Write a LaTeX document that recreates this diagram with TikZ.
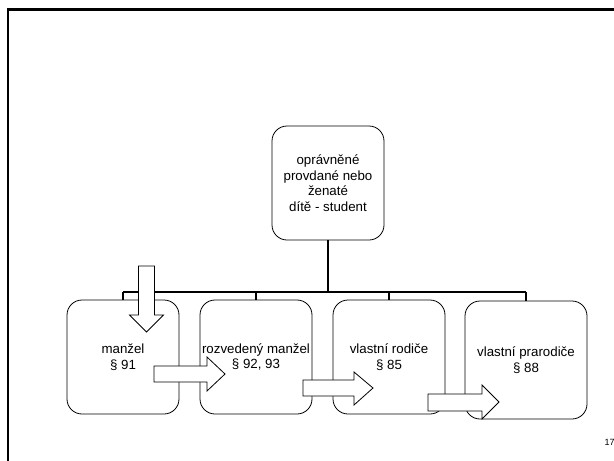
\documentclass[tikz,border=0pt]{standalone}
\usepackage{fontspec}
\setmainfont{Liberation Sans}
\begin{document}
\begin{tikzpicture}[x=1pt,y=-1pt,
  boxnode/.style={draw=black,line width=0.8pt,rounded corners=15pt,fill=white,
    minimum width=112pt,minimum height=114pt,inner sep=0pt,align=center,
    font=\fontsize{13.3}{15.5}\selectfont},
  busline/.style={line width=2pt,black},
  dropline/.style={line width=1.4pt,black},
  blockarrow/.style={draw=black,line width=0.8pt,fill=white},
  frameline/.style={line width=2.5pt,black}]
\useasboundingbox (0,0) rectangle (614,461);
% slide frame
\draw[frameline] (7.8,461) -- (7.8,9.5) -- (614,9.5);
% nodes
\node[boxnode] (top) at (328,183) {oprávněné\\provdané nebo\\ženaté\\dítě - student};
\node[boxnode] (b1) at (123,357) {manžel\\§ 91};
\node[boxnode] (b2) at (256,357) {rozvedený manžel\\§ 92, 93};
\node[boxnode] (b3) at (389,357) {vlastní rodiče\\§ 85};
\node[boxnode,minimum width=122pt,minimum height=118pt] (b4) at (526,360) {vlastní prarodiče\\§ 88};
% connectors
\coordinate (bus) at (328,292);
\draw[busline] (top.south) -- (bus);
\draw[busline] (b1.north |- bus) -- (b4.north |- bus);
\draw[dropline] (b1.north |- bus) -- (b1.north);
\draw[dropline] (b2.north |- bus) -- (b2.north);
\draw[dropline] (b3.north |- bus) -- (b3.north);
\draw[dropline] (b4.north |- bus) -- (b4.north);
% block arrows
\draw[blockarrow] (138.5,266) -- (154.5,266) -- (154.5,315) -- (163.5,315) -- (146.5,332)
  -- (129.5,315) -- (138.5,315) -- cycle;
\draw[blockarrow] (154,366) -- (207,366) -- (207,357) -- (225,374) -- (207,391)
  -- (207,382) -- (154,382) -- cycle;
\draw[blockarrow] (303,380) -- (354,380) -- (354,372) -- (373,388) -- (354,405)
  -- (354,396) -- (303,396) -- cycle;
\draw[blockarrow] (428,394) -- (482,394) -- (482,385) -- (499,402) -- (482,419)
  -- (482,411) -- (428,411) -- cycle;
% page number (cut off by the slide edge)
\node[anchor=west,inner sep=0pt,font=\fontsize{9}{10}\selectfont] (pg) at (604.5,442) {17};
\end{tikzpicture}
\end{document}
